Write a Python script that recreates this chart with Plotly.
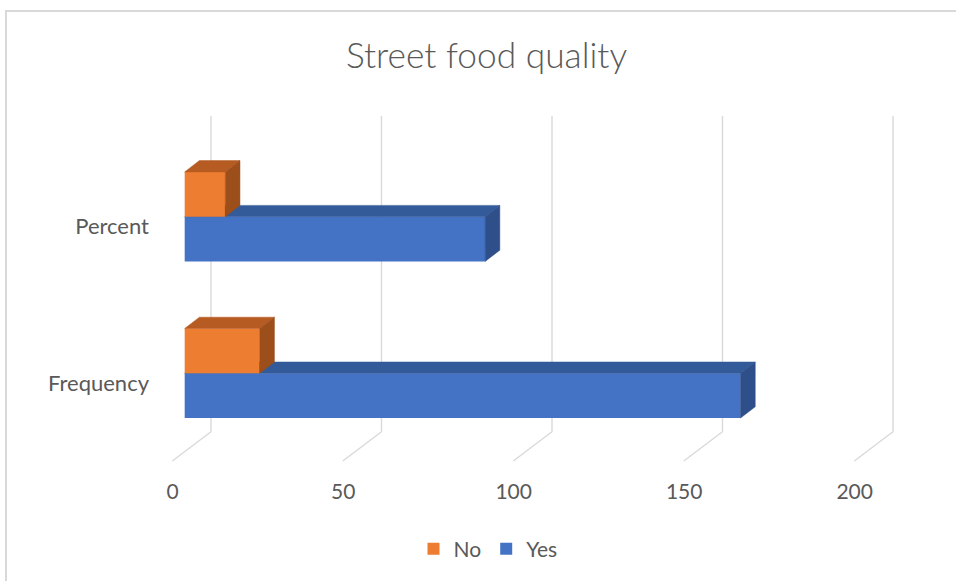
import plotly.graph_objects as go

# ---- data -------------------------------------------------------------
categories = ["Frequency", "Percent"]
yes_values = [163, 88.1]
no_values = [22, 11.9]
x_ticks = [0, 50, 100, 150, 200]

# ---- layout geometry (pixels) -----------------------------------------
W, H = 956, 581
L, R, T, B = 160, 26, 100, 111
plot_w = W - L - R
plot_h = H - T - B
X_RANGE = [-7.24, 218.56]
Y_RANGE = [-0.6175, 1.745]
px_x = plot_w / (X_RANGE[1] - X_RANGE[0])   # pixels per x unit
px_y = plot_h / (Y_RANGE[1] - Y_RANGE[0])   # pixels per y unit


def dy_px(p):
    """pixel distance -> y data distance"""
    return p / px_y


def y_at(py):
    """page pixel row -> y data value"""
    return Y_RANGE[1] - (py - T) / px_y


# pseudo-3D depth of the bars
DEPTH_X = 14.7 / px_x
DEPTH_Y = dy_px(11.3)
BAR_W = dy_px(44.8)

# back wall / floor grid geometry
GRID_BACK = 26.3 / px_x
GRID_FRONT = -12.4 / px_x
GRID_TOP, GRID_BEND, GRID_FLOOR = y_at(116), y_at(431.7), y_at(461)

ORANGE = "#ED7D31"
ORANGE_TOP = "#B65B22"
ORANGE_SIDE = "#9C4E1B"
BLUE = "#4472C4"
BLUE_TOP = "#335A99"
BLUE_SIDE = "#2E4F8A"
TEXT = "#595959"
GRID = "#D9D9D9"
FONT = "Lato"

positions = list(range(len(categories)))


def bar_traces(name, values, offset, front, top, side, xa, ya):
    out = [go.Bar(
        name=name, y=positions, x=values, orientation="h",
        width=BAR_W, offset=offset, marker=dict(color=front, line=dict(width=0)),
        xaxis=xa, yaxis=ya, hoverinfo="x+name",
    )]
    for pos, v in zip(positions, values):
        y0 = pos + offset
        y1 = y0 + BAR_W
        out.append(go.Scatter(
            x=[0, v, v + DEPTH_X, DEPTH_X, 0],
            y=[y1, y1, y1 + DEPTH_Y, y1 + DEPTH_Y, y1],
            fill="toself", mode="lines", fillcolor=top,
            line=dict(color=top, width=0.5), showlegend=False,
            hoverinfo="skip", xaxis=xa, yaxis=ya,
        ))
        out.append(go.Scatter(
            x=[v, v + DEPTH_X, v + DEPTH_X, v, v],
            y=[y0, y0 + DEPTH_Y, y1 + DEPTH_Y, y1, y0],
            fill="toself", mode="lines", fillcolor=side,
            line=dict(color=side, width=0.5), showlegend=False,
            hoverinfo="skip", xaxis=xa, yaxis=ya,
        ))
    return out


traces = []
traces += bar_traces("Yes", yes_values, -BAR_W, BLUE, BLUE_TOP, BLUE_SIDE, "x", "y")
traces += bar_traces("No", no_values, 0.0, ORANGE, ORANGE_TOP, ORANGE_SIDE, "x2", "y2")

fig = go.Figure(traces)

shapes = []
for g in x_ticks:
    shapes.append(dict(
        type="path", xref="x", yref="y", layer="below",
        path=(f"M {g + GRID_BACK},{GRID_TOP} L {g + GRID_BACK},{GRID_BEND} "
              f"L {g + GRID_FRONT},{GRID_FLOOR}"),
        line=dict(color=GRID, width=1.4),
    ))

# chart-area border
shapes.append(dict(
    type="path", xref="paper", yref="paper", xsizemode="pixel", ysizemode="pixel",
    xanchor=0, yanchor=1, layer="below",
    path=f"M {6 - L},{T - 600} L {6 - L},{T - 11} L {W + 10 - L},{T - 11}",
    line=dict(color=GRID, width=2),
))

axis_common = dict(showgrid=False, zeroline=False, showline=False, fixedrange=True)

fig.update_layout(
    width=W, height=H,
    margin=dict(l=L, r=R, t=T, b=B, pad=0),
    paper_bgcolor="white", plot_bgcolor="white",
    barmode="overlay",
    font=dict(family=FONT, color=TEXT, size=21),
    title=dict(
        text="Street food quality", xref="paper", x=(486.5 - L) / plot_w,
        xanchor="center", yref="container", y=1 - 56 / H, yanchor="middle",
        font=dict(family=FONT, size=35.3, color=TEXT, weight=300),
    ),
    xaxis=dict(range=X_RANGE, tickvals=x_ticks, ticklabelshift=-12,
               ticklabelstandoff=7, ticks="", tickfont=dict(size=21, color=TEXT),
               **axis_common),
    yaxis=dict(range=Y_RANGE, tickvals=positions, ticktext=categories,
               ticklabelshift=10, ticklabelstandoff=10, ticks="",
               tickfont=dict(size=22, color=TEXT), **axis_common),
    xaxis2=dict(range=X_RANGE, overlaying="x", visible=False, **axis_common),
    yaxis2=dict(range=Y_RANGE, overlaying="y", visible=False, **axis_common),
    legend=dict(
        orientation="h", traceorder="reversed",
        x=(488 - L) / plot_w, xanchor="center",
        y=-(549 - (T + plot_h)) / plot_h, yanchor="middle",
        font=dict(size=21, color=TEXT), bgcolor="rgba(0,0,0,0)",
    ),
    shapes=shapes,
    showlegend=True,
)

fig.write_html("out.html")
